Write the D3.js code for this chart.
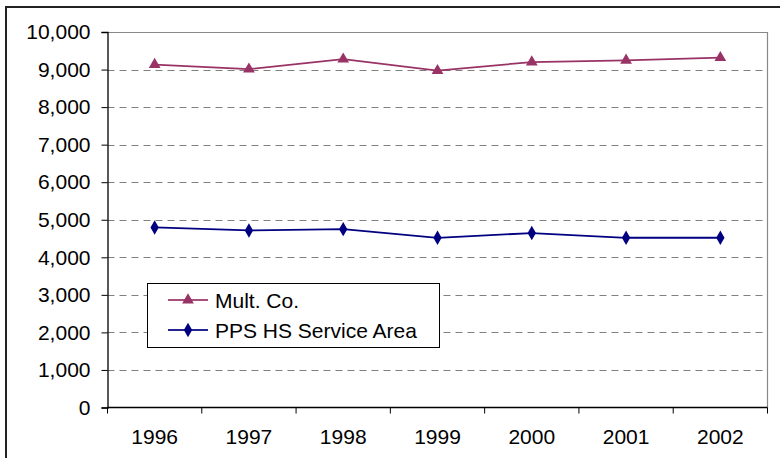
<!DOCTYPE html>
<html><head><meta charset="utf-8">
<script src="https://cdn.jsdelivr.net/npm/d3@7"></script>
<style>body{margin:0;background:#fff;} text{font-family:"Liberation Sans",Arial,sans-serif;}</style>
</head><body>
<svg id="c" width="780" height="458"></svg>
<script>
const years = ["1996","1997","1998","1999","2000","2001","2002"];
const multCo = [9130, 9010, 9275, 8970, 9200, 9245, 9315];
const ppsHS = [4795, 4715, 4750, 4520, 4645, 4520, 4520];
const yTicks = [0,1000,2000,3000,4000,5000,6000,7000,8000,9000,10000];
const seriesNames = ["Mult. Co.", "PPS HS Service Area"];

const svg = d3.select("#c");
const L = 107.5, R = 767.5, T = 32, B = 407.5;
const FS = 21;
const x = d3.scaleBand().domain(years).range([L, R]);
const y = d3.scaleLinear().domain([0, 10000]).range([B, T]);

// outer border
svg.append("path").attr("d", `M6,458 V7 H782`).attr("fill","none").attr("stroke","#222").attr("stroke-width",2);

// plot area border (gray)
svg.append("path").attr("d", `M${L},${T+0.5} H${R} V${B}`).attr("fill","none").attr("stroke","#888").attr("stroke-width",1.2);

// grid
svg.append("g").selectAll("line").data(yTicks.filter(d=>d>0&&d<10000)).join("line")
  .attr("x1", L).attr("x2", R).attr("y1", d=>Math.round(y(d))+0.5).attr("y2", d=>Math.round(y(d))+0.5)
  .attr("stroke","#808080").attr("stroke-width",1.2).attr("stroke-dasharray","7,5");

// y axis
const fmt = d3.format(",");
const ya = svg.append("g").attr("transform", `translate(${L},0)`)
  .call(d3.axisLeft(y).tickValues(yTicks).tickSize(6).tickPadding(11).tickFormat(fmt));
ya.select(".domain").attr("stroke","#000").attr("stroke-width",1.3);
ya.selectAll(".tick line").attr("stroke","#000");
ya.selectAll("text").attr("font-size",FS).attr("fill","#000").attr("font-family","Liberation Sans, Arial, sans-serif");

// x axis
const xa = svg.append("g").attr("transform", `translate(0,${B})`)
  .call(d3.axisBottom(x).tickSize(0).tickPadding(22));
xa.select(".domain").remove();
xa.selectAll("text").attr("font-size",FS).attr("fill","#000").attr("font-family","Liberation Sans, Arial, sans-serif");
// category boundary ticks
const bounds = years.map(d=>x(d)).concat([x(years[years.length-1])+x.bandwidth()]);
svg.append("g").selectAll("line").data(bounds).join("line")
  .attr("x1", d=>d).attr("x2", d=>d).attr("y1", B).attr("y2", B+6).attr("stroke","#000");
svg.append("line").attr("x1",L).attr("x2",R).attr("y1",B).attr("y2",B).attr("stroke","#000").attr("stroke-width",1.3);

const cx = d => x(d) + x.bandwidth()/2;
const line = d3.line().x((d,i)=>cx(years[i])).y(d=>y(d));
const tri = d3.symbol().type(d3.symbolTriangle).size(60);
const dia = d3.symbol().type(d3.symbolDiamond).size(60);

function series(vals, color, sym){
  svg.append("path").datum(vals).attr("d", line).attr("fill","none").attr("stroke",color).attr("stroke-width",1.8);
  svg.append("g").selectAll("path").data(vals).join("path")
    .attr("transform",(d,i)=>`translate(${cx(years[i])},${y(d)})`).attr("d", sym).attr("fill",color);
}
series(multCo, "#993366", tri);
series(ppsHS, "#000080", dia);

// legend
const lg = svg.append("g");
lg.append("rect").attr("x",147.5).attr("y",283.5).attr("width",292).attr("height",64)
  .attr("fill","#fff").attr("stroke","#000").attr("stroke-width",1);
const rows = [{n:seriesNames[0], c:"#993366", s:tri, yy:300},{n:seriesNames[1], c:"#000080", s:dia, yy:330}];
rows.forEach(r=>{
  lg.append("line").attr("x1",168).attr("x2",208).attr("y1",r.yy).attr("y2",r.yy).attr("stroke",r.c).attr("stroke-width",1.8).attr("opacity",0.85);
  lg.append("path").attr("transform",`translate(188,${r.yy})`).attr("d",r.s).attr("fill",r.c);
  lg.append("text").attr("x",215).attr("y",r.yy).attr("dy","0.36em").attr("font-size",FS).text(r.n);
});
</script>
</body></html>
